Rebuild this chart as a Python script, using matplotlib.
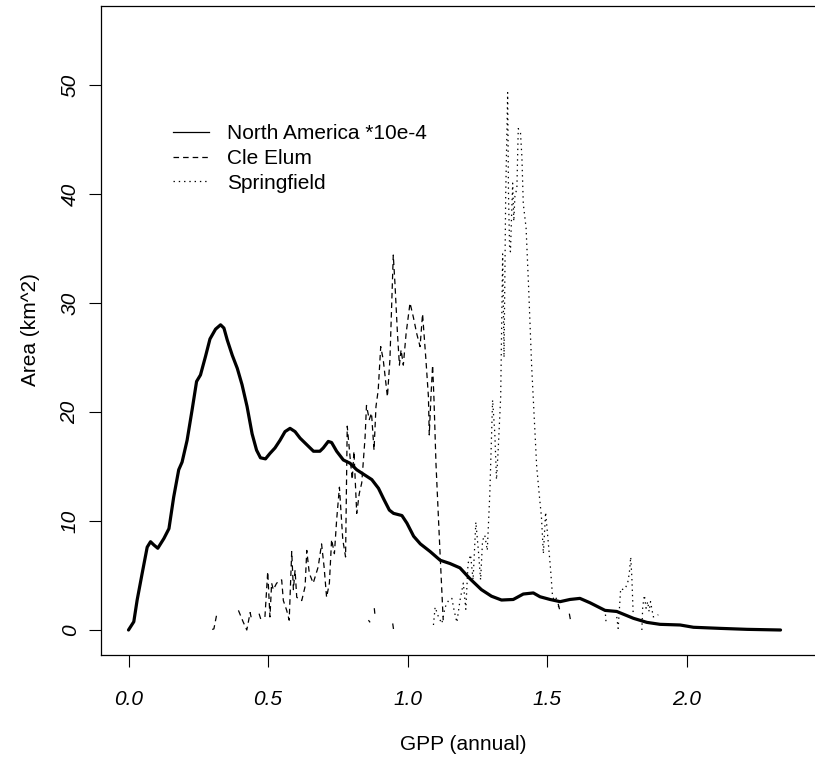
import numpy as np
import matplotlib
matplotlib.use("Agg")
import matplotlib.pyplot as plt
from matplotlib.lines import Line2D

nan = np.nan

# North America (scaled *10e-4)
na_x = [0.0, 0.019, 0.031, 0.049, 0.067, 0.079, 0.091, 0.105, 0.127, 0.145,
        0.162, 0.180, 0.192, 0.210, 0.228, 0.244, 0.258, 0.276, 0.292, 0.312,
        0.330, 0.342, 0.354, 0.372, 0.390, 0.407, 0.425, 0.443, 0.459, 0.473,
        0.491, 0.507, 0.525, 0.543, 0.561, 0.579, 0.597, 0.615, 0.639, 0.663,
        0.686, 0.698, 0.716, 0.728, 0.746, 0.770, 0.794, 0.818, 0.848, 0.872,
        0.896, 0.915, 0.935, 0.950, 0.980, 0.998, 1.022, 1.046, 1.081, 1.117,
        1.152, 1.188, 1.224, 1.265, 1.301, 1.337, 1.379, 1.415, 1.451, 1.475,
        1.511, 1.547, 1.582, 1.618, 1.654, 1.708, 1.750, 1.810, 1.858, 1.905,
        1.977, 2.025, 2.120, 2.217, 2.337]
na_y = [0.0, 0.76, 2.75, 5.2, 7.6, 8.1, 7.8, 7.5, 8.4, 9.3,
        12.2, 14.7, 15.4, 17.4, 20.2, 22.8, 23.4, 25.1, 26.7, 27.6,
        28.0, 27.7, 26.6, 25.2, 24.0, 22.5, 20.5, 18.0, 16.5, 15.8,
        15.7, 16.2, 16.7, 17.4, 18.2, 18.5, 18.2, 17.6, 17.0, 16.4,
        16.4, 16.7, 17.3, 17.2, 16.4, 15.6, 15.3, 14.7, 14.2, 13.8,
        13.0, 12.0, 11.0, 10.7, 10.5, 9.8, 8.6, 7.9, 7.2, 6.4,
        6.1, 5.7, 4.7, 3.7, 3.1, 2.75, 2.8, 3.3, 3.4, 3.05,
        2.8, 2.6, 2.8, 2.9, 2.5, 1.8, 1.7, 1.07, 0.7, 0.52,
        0.46, 0.25, 0.15, 0.06, 0.0]

# Cle Elum (nan = no data)
cle_x = [0.300, 0.306, 0.316, nan, 0.394, 0.410, 0.424, 0.436, 0.441, nan,
         0.468, 0.474, nan, 0.489, 0.499, 0.507, 0.513, 0.519, 0.531, 0.549,
         0.555, 0.567, 0.576, 0.585, 0.591, 0.597, 0.603, 0.621, 0.633, 0.639,
         0.648, 0.662, 0.680, 0.692, 0.701, 0.710, 0.720, 0.728, 0.738, 0.746,
         0.756, 0.768, 0.778, 0.784, 0.794, 0.802, 0.808, 0.818, 0.827, 0.836,
         0.848, 0.853, 0.863, 0.871, 0.880, 0.887, 0.895, 0.904, 0.913, 0.928,
         0.937, 0.949, 0.955, 0.964, 0.971, 0.977, 0.985, 0.995, 1.009, 1.021,
         1.033, 1.045, 1.054, 1.066, 1.075, 1.078, 1.084, 1.090, 1.095, 1.102,
         1.116, 1.128]
cle_y = [0.05, 0.1, 1.4, nan, 1.8, 0.8, 0.0, 1.6, 1.0, nan,
         1.5, 1.0, nan, 1.2, 5.35, 1.2, 4.3, 3.7, 4.3, 4.6,
         2.7, 1.8, 0.9, 7.2, 3.7, 5.5, 3.0, 2.7, 4.0, 7.3,
         5.2, 4.3, 5.8, 7.9, 5.8, 3.0, 4.3, 8.3, 7.0, 10.1,
         13.1, 8.3, 6.7, 18.7, 15.9, 13.8, 16.4, 10.7, 12.5, 13.5,
         17.7, 20.6, 19.3, 19.9, 16.5, 20.5, 22.0, 26.0, 24.8, 21.4,
         24.8, 34.4, 31.8, 27.2, 24.3, 25.7, 24.3, 27.2, 30.0, 28.7,
         27.2, 26.0, 29.0, 24.8, 21.4, 17.9, 21.4, 24.3, 21.1, 15.3,
         7.4, 0.9]
# small Cle Elum pieces near the baseline
cle_low_x = [0.860, 0.866, nan, 0.881, 0.884, nan, 0.947, 0.950, nan,
             1.540, 1.548, nan, 1.580, 1.585]
cle_low_y = [0.9, 0.7, nan, 2.0, 1.2, nan, 0.6, 0.05, nan,
             2.4, 1.6, nan, 1.5, 0.8]

# Springfield
spr_x = [1.093, 1.099, 1.111, 1.123, 1.135, 1.147, 1.159, 1.167, 1.177, 1.188,
         1.200, 1.209, 1.217, 1.226, 1.235, 1.245, 1.254, 1.262, 1.269, 1.277,
         1.286, 1.295, 1.305, 1.313, 1.319, 1.325, 1.334, 1.341, 1.346, 1.352,
         1.359, 1.362, 1.366, 1.369, 1.373, 1.377, 1.381, 1.385, 1.392, 1.397,
         1.405, 1.410, 1.415, 1.425, 1.434, 1.445, 1.454, 1.463, 1.473, 1.480,
         1.487, 1.495, 1.505, 1.513, 1.520, 1.529, 1.535, 1.544, nan, 1.708,
         1.712, nan, 1.750, 1.755, 1.759, 1.764, 1.774, 1.780, 1.789, 1.795,
         1.800, 1.804, 1.809, nan, 1.840, 1.843, 1.849, 1.855, 1.861, 1.866,
         1.871, 1.881, 1.899]
spr_y = [0.46, 2.1, 1.2, 0.6, 2.1, 2.7, 2.9, 1.8, 0.7, 2.7,
         4.3, 1.9, 6.1, 6.9, 4.6, 9.9, 7.3, 4.6, 8.2, 8.7,
         7.3, 12.5, 21.1, 18.0, 13.8, 16.5, 21.4, 34.5, 25.0, 40.0,
         49.3, 40.0, 35.0, 34.7, 38.0, 41.0, 37.5, 39.8, 40.5, 46.0,
         45.6, 43.4, 39.1, 36.9, 31.5, 24.2, 19.6, 15.0, 12.2, 10.4,
         7.0, 10.8, 7.9, 5.5, 3.0, 2.7, 3.0, 1.8, nan, 1.9,
         0.6, nan, 1.2, 0.15, 1.7, 3.8, 3.7, 3.8, 4.3, 5.2,
         6.7, 4.9, 1.4, nan, 0.0, 2.1, 3.2, 2.0, 2.6, 1.7,
         2.6, 1.2, 1.4]

x_ticks = [0.0, 0.5, 1.0, 1.5, 2.0]
x_labels = ["0.0", "0.5", "1.0", "1.5", "2.0"]
y_ticks = [0, 10, 20, 30, 40, 50]
legend_labels = ["North America *10e-4", "Cle Elum", "Springfield"]

plt.rcParams['font.family'] = ['Liberation Sans', 'DejaVu Sans']
plt.rcParams['lines.scale_dashes'] = False

dash = (4.0, 2.9)
dot = (1.0, 2.8)

W, H = 815, 759
fig = plt.figure(figsize=(W / 100, H / 100), dpi=100)
# plot box in pixels: left 101, top 6, bottom 655, right edge off the picture
ax = fig.add_axes([101 / W, 1 - 655 / H, (822 - 101) / W, (655 - 6) / H])

ax.plot(na_x, na_y, color='black', lw=2.3, solid_capstyle='round')
ax.plot(cle_x, cle_y, color='black', lw=0.9, dashes=dash)
ax.plot(cle_low_x, cle_low_y, color='black', lw=0.9, dashes=dash)
ax.plot(spr_x, spr_y, color='black', lw=0.9, dashes=dot)

ax.set_xlim((101 - 128.5) / 279, (822 - 128.5) / 279)
ax.set_ylim(-25 / 10.9, 624 / 10.9)

ax.set_xticks(x_ticks)
ax.set_xticklabels(x_labels, fontsize=15, fontstyle='italic')
ax.set_yticks(y_ticks)
ax.set_yticklabels([str(v) for v in y_ticks], fontsize=15,
                   fontstyle='italic', rotation=90, va='center')
ax.tick_params(direction='out', length=8.4, width=0.8)
ax.tick_params(axis='x', pad=17)
ax.tick_params(axis='y', pad=7)
for s in ax.spines.values():
    s.set_linewidth(0.9)

fig.text(463 / W, 1 - 745 / H, "GPP (annual)", fontsize=15,
         ha='center', va='center')
fig.text(30 / W, 1 - 330 / H, "Area (km^2)", fontsize=15, rotation=90,
         ha='center', va='center')

# legend keys are drawn thin, like R's legend()
handles = [Line2D([], [], color='black', lw=0.9),
           Line2D([], [], color='black', lw=0.9, dashes=dash),
           Line2D([], [], color='black', lw=0.9, dashes=dot)]
ax.legend(handles, legend_labels, loc='upper left',
          bbox_to_anchor=(173 / W, 1 - 124 / H),
          bbox_transform=fig.transFigure, frameon=False, fontsize=15,
          handlelength=1.75, handletextpad=0.85, labelspacing=0.28,
          borderpad=0, borderaxespad=0)

fig.savefig("out.png", dpi=100)
